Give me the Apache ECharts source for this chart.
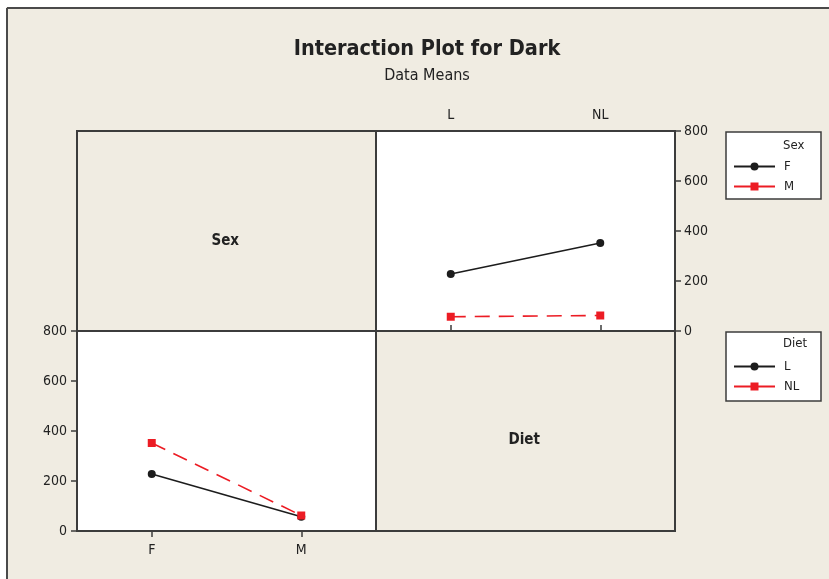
<!DOCTYPE html>
<html>
<head>
<meta charset="utf-8">
<title>Interaction Plot for Dark</title>
<script src="https://cdn.jsdelivr.net/npm/echarts@6/dist/echarts.min.js"></script>
<style>
  html, body { margin: 0; padding: 0; background: #ffffff; }
  #chart { width: 829px; height: 579px; }
</style>
</head>
<body>
<div id="chart"></div>
<script>
// Factor levels
const dietLevels = ['L', 'NL'];
const sexLevels = ['F', 'M'];
const yTicks = [0, 200, 400, 600, 800];

// Cell means of Dark, one line per level of the trace factor
const femaleByDiet = [228, 352];   // Sex = F at Diet L, NL
const maleByDiet = [57, 62];       // Sex = M at Diet L, NL
const lowDietBySex = [228, 57];    // Diet = L at Sex F, M
const nlDietBySex = [352, 62];     // Diet = NL at Sex F, M

const FONT = '"DejaVu Sans Condensed", "DejaVu Sans", sans-serif';
const BG = '#f0ece2';
const EDGE = '#3c3c3c';
const BLACK = '#1c1c1c';
const RED = '#ec1c24';

const chart = echarts.init(document.getElementById('chart'), null, { renderer: 'canvas' });

// Panel layout (pixels)
const L0 = 77, T0 = 131, PW = 299, PH = 200;

function axisCommon() {
  return {
    axisLine: { show: false },
    axisTick: { show: true, length: 6, lineStyle: { color: EDGE, width: 1.5 } },
    splitLine: { show: false },
    axisLabel: { color: '#222', fontFamily: FONT, fontSize: 14 }
  };
}

const option = {
  backgroundColor: BG,
  animation: false,
  title: [
    {
      text: 'Interaction Plot for Dark',
      left: 422, top: 33, textAlign: 'center',
      textStyle: { fontFamily: FONT, fontWeight: 'bold', fontSize: 21.5, color: '#222' }
    },
    {
      text: 'Data Means',
      left: 422, top: 63, textAlign: 'center',
      textStyle: { fontFamily: FONT, fontWeight: 'normal', fontSize: 16, color: '#222' }
    }
  ],
  grid: [
    { left: L0 + PW, top: T0, width: PW, height: PH, show: true,
      backgroundColor: '#ffffff', borderColor: EDGE, borderWidth: 2 },
    { left: L0, top: T0 + PH, width: PW, height: PH, show: true,
      backgroundColor: '#ffffff', borderColor: EDGE, borderWidth: 2 }
  ],
  xAxis: [
    Object.assign(axisCommon(), {
      gridIndex: 0, type: 'category', data: dietLevels, position: 'top',
      boundaryGap: true,
      axisTick: { show: true, alignWithLabel: true, length: 6, lineStyle: { color: EDGE, width: 1.5 } },
      axisLabel: { color: '#222', fontFamily: FONT, fontSize: 14, margin: 9 }
    }),
    Object.assign(axisCommon(), {
      gridIndex: 1, type: 'category', data: sexLevels, position: 'bottom',
      boundaryGap: true,
      axisTick: { show: true, alignWithLabel: true, length: 6, lineStyle: { color: EDGE, width: 1.5 } },
      axisLabel: { color: '#222', fontFamily: FONT, fontSize: 14, margin: 12 }
    })
  ],
  yAxis: [
    Object.assign(axisCommon(), {
      gridIndex: 0, type: 'value', position: 'right', min: yTicks[0], max: yTicks[yTicks.length - 1], interval: 200,
      axisLabel: { color: '#222', fontFamily: FONT, fontSize: 14, margin: 9 }
    }),
    Object.assign(axisCommon(), {
      gridIndex: 1, type: 'value', position: 'left', min: yTicks[0], max: yTicks[yTicks.length - 1], interval: 200,
      axisLabel: { color: '#222', fontFamily: FONT, fontSize: 14, margin: 10 }
    })
  ],
  legend: [
    {
      data: ['F', 'M'], orient: 'vertical', left: 733, top: 160,
      padding: 0, itemWidth: 41, itemHeight: 10, itemGap: 7,
      lineStyle: { type: 'solid' }, selectedMode: false,
      textStyle: { fontFamily: FONT, fontSize: 13, color: '#222', padding: [0, 0, 0, 4] }
    },
    {
      data: ['L', 'NL'], orient: 'vertical', left: 733, top: 360,
      padding: 0, itemWidth: 41, itemHeight: 10, itemGap: 7,
      lineStyle: { type: 'solid' }, selectedMode: false,
      textStyle: { fontFamily: FONT, fontSize: 13, color: '#222', padding: [0, 0, 0, 4] }
    }
  ],
  series: [
    { name: 'F', type: 'line', xAxisIndex: 0, yAxisIndex: 0, data: femaleByDiet,
      symbol: 'circle', symbolSize: 8, lineStyle: { color: BLACK, width: 1.6 },
      itemStyle: { color: BLACK } },
    { name: 'M', type: 'line', xAxisIndex: 0, yAxisIndex: 0, data: maleByDiet,
      symbol: 'rect', symbolSize: 8, lineStyle: { color: RED, width: 1.6, type: [15, 9] },
      itemStyle: { color: RED } },
    { name: 'L', type: 'line', xAxisIndex: 1, yAxisIndex: 1, data: lowDietBySex,
      symbol: 'circle', symbolSize: 8, lineStyle: { color: BLACK, width: 1.6 },
      itemStyle: { color: BLACK } },
    { name: 'NL', type: 'line', xAxisIndex: 1, yAxisIndex: 1, data: nlDietBySex,
      symbol: 'rect', symbolSize: 8, lineStyle: { color: RED, width: 1.6, type: [15, 9] },
      itemStyle: { color: RED } }
  ],
  graphic: [
    // white margin outside the frame
    { type: 'rect', shape: { x: 0, y: 0, width: 829, height: 7 }, style: { fill: '#ffffff' }, silent: true },
    { type: 'rect', shape: { x: 0, y: 0, width: 6, height: 579 }, style: { fill: '#ffffff' }, silent: true },
    // frame edges
    { type: 'line', shape: { x1: 7, y1: 8, x2: 829, y2: 8 }, style: { stroke: '#4a4a4a', lineWidth: 2 }, silent: true },
    { type: 'line', shape: { x1: 7, y1: 8, x2: 7, y2: 579 }, style: { stroke: '#4a4a4a', lineWidth: 2 }, silent: true },
    // outline of the 2x2 panel matrix
    { type: 'rect', shape: { x: L0, y: T0, width: 2 * PW, height: 2 * PH },
      style: { fill: 'transparent', stroke: EDGE, lineWidth: 2 }, silent: true, z: 10 },
    // factor name panels
    { type: 'text', left: L0 + PW / 2 - 15, top: 234, silent: true,
      style: { text: 'Sex', fontFamily: FONT, fontWeight: 'bold', fontSize: 15, fill: '#222' } },
    { type: 'text', left: L0 + PW + PW / 2 - 17, top: 433, silent: true,
      style: { text: 'Diet', fontFamily: FONT, fontWeight: 'bold', fontSize: 15, fill: '#222' } },
    // legend boxes and titles
    { type: 'rect', shape: { x: 726, y: 132, width: 95, height: 67 },
      style: { fill: '#ffffff', stroke: EDGE, lineWidth: 1.5 }, silent: true, z: -1 },
    { type: 'text', left: 783, top: 139, silent: true,
      style: { text: 'Sex', fontFamily: FONT, fontSize: 13, fill: '#222' } },
    { type: 'rect', shape: { x: 726, y: 332, width: 95, height: 69 },
      style: { fill: '#ffffff', stroke: EDGE, lineWidth: 1.5 }, silent: true, z: -1 },
    { type: 'text', left: 783, top: 337, silent: true,
      style: { text: 'Diet', fontFamily: FONT, fontSize: 13, fill: '#222' } }
  ]
};

chart.setOption(option);
</script>
</body>
</html>
